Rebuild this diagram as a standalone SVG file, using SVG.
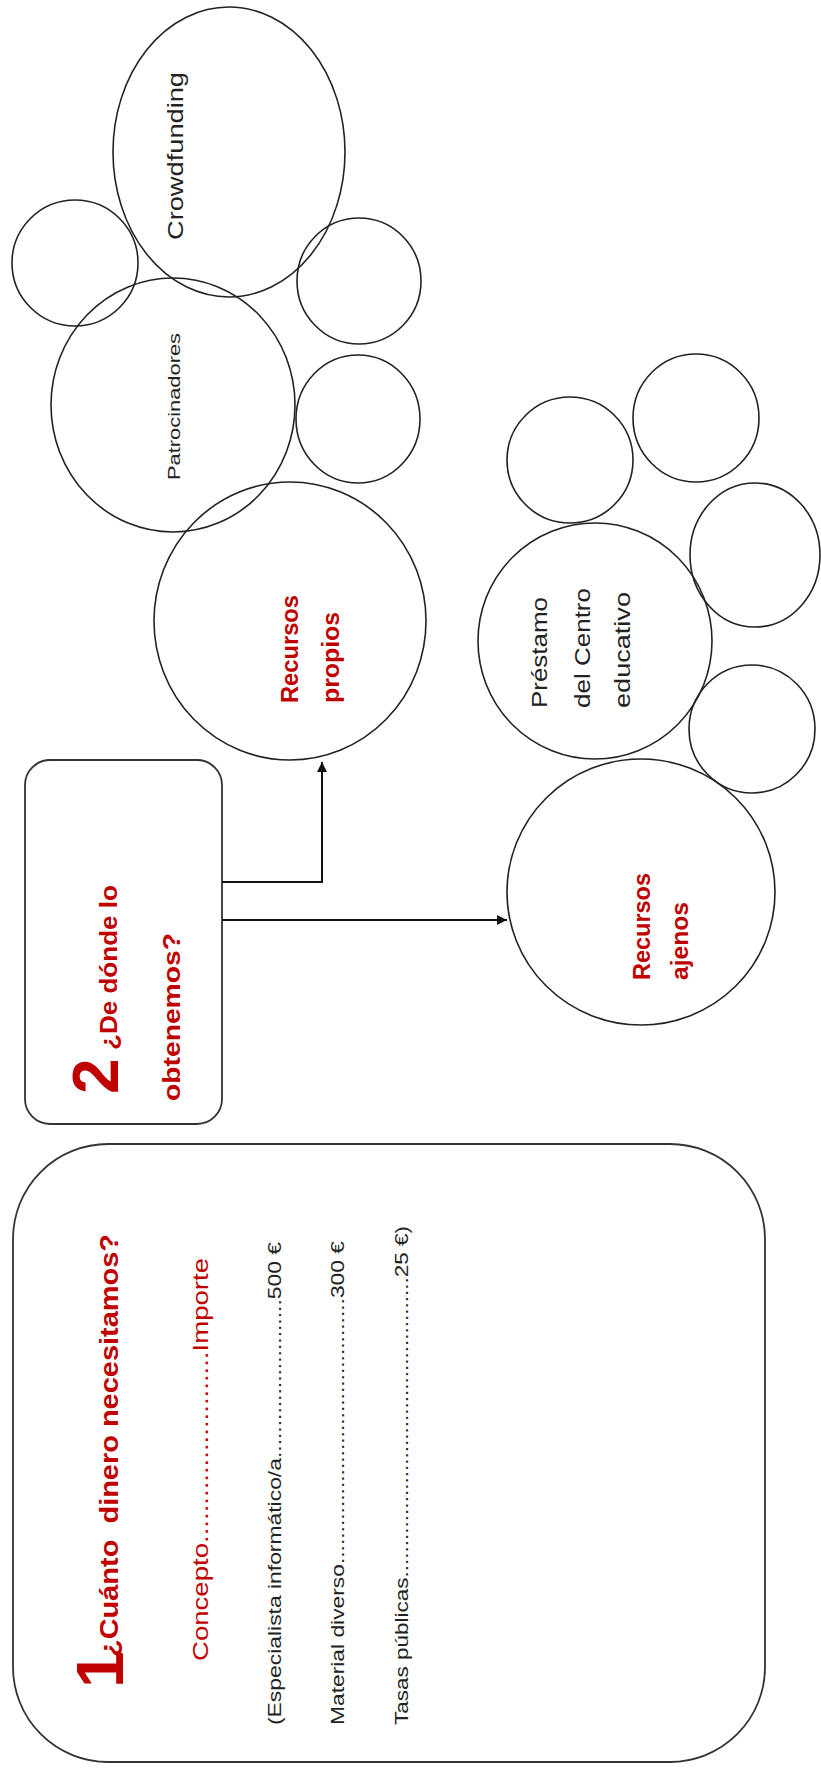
<svg xmlns="http://www.w3.org/2000/svg" width="821" height="1771" viewBox="0 0 821 1771">
<style>
.shape{fill:none;stroke:#222;stroke-width:1.6}
.box{fill:#fff;stroke:#333;stroke-width:1.8}
.red{fill:#C00000;font-family:"Liberation Sans",Arial,sans-serif}
.blk{fill:#222;font-family:"Liberation Sans",Arial,sans-serif}
.b{font-weight:bold}
.conn{fill:none;stroke:#111;stroke-width:2}
</style>
<defs>
<marker id="arr" viewBox="0 0 10 10" refX="10" refY="5" markerWidth="5" markerHeight="5" orient="auto" markerUnits="strokeWidth">
<path d="M0,0 L10,5 L0,10 z" fill="#111"/>
</marker>
</defs>
<rect width="821" height="1771" fill="#fff"/>

<g id="box1">
<rect class="box" x="13" y="1144" width="752" height="618" rx="95" ry="95"/>
<text class="red b" font-size="66" transform="translate(123,1688) rotate(-90)">1</text>
<text class="red b" font-size="25" xml:space="preserve" textLength="423" lengthAdjust="spacingAndGlyphs" transform="translate(118,1657) rotate(-90)">¿Cuánto  dinero necesitamos?</text>
<text class="red" font-size="22" textLength="403" lengthAdjust="spacingAndGlyphs" transform="translate(208,1661) rotate(-90)">Concepto.........................Importe</text>
<text class="blk" font-size="18" textLength="483" lengthAdjust="spacingAndGlyphs" transform="translate(281,1725) rotate(-90)">(Especialista informático/a.........................500 €</text>
<text class="blk" font-size="18" textLength="484" lengthAdjust="spacingAndGlyphs" transform="translate(344,1725) rotate(-90)">Material diverso..........................................300 €</text>
<text class="blk" font-size="18" textLength="499" lengthAdjust="spacingAndGlyphs" transform="translate(408,1725) rotate(-90)">Tasas públicas................................................25 €)</text>
</g>

<g id="box2">
<rect class="box" x="25" y="760" width="197" height="364" rx="25" ry="25"/>
<text class="red b" font-size="64" transform="translate(118,1094) rotate(-90)">2</text>
<text class="red b" font-size="24" textLength="165" lengthAdjust="spacingAndGlyphs" transform="translate(117,1050) rotate(-90)">¿De dónde lo</text>
<text class="red b" font-size="24" textLength="168" lengthAdjust="spacingAndGlyphs" transform="translate(180,1101) rotate(-90)">obtenemos?</text>
</g>

<g id="connectors">
<polyline class="conn" points="222,882 322,882 322,762" marker-end="url(#arr)"/>
<line class="conn" x1="222" y1="920" x2="507" y2="920" marker-end="url(#arr)"/>
</g>

<g id="crowdfunding">
<ellipse class="shape" cx="229" cy="152" rx="116" ry="145"/>
<text class="blk" font-size="22" textLength="168" lengthAdjust="spacingAndGlyphs" transform="translate(183,240) rotate(-90)">Crowdfunding</text>
</g>
<g id="small-topleft"><ellipse class="shape" cx="75" cy="263" rx="63" ry="63"/></g>
<g id="small-right1"><ellipse class="shape" cx="359" cy="281" rx="62" ry="63"/></g>
<g id="patrocinadores">
<ellipse class="shape" cx="173" cy="405" rx="122" ry="127"/>
<text class="blk" font-size="17" textLength="147" lengthAdjust="spacingAndGlyphs" transform="translate(180,480) rotate(-90)">Patrocinadores</text>
</g>
<g id="small-right2"><ellipse class="shape" cx="358" cy="419" rx="62" ry="64"/></g>
<g id="recursos-propios">
<ellipse class="shape" cx="290" cy="621" rx="136" ry="139"/>
<text class="red b" font-size="24" textLength="108" lengthAdjust="spacingAndGlyphs" transform="translate(298,703) rotate(-90)">Recursos</text>
<text class="red b" font-size="24" textLength="91" lengthAdjust="spacingAndGlyphs" transform="translate(339,703) rotate(-90)">propios</text>
</g>

<g id="small-a"><ellipse class="shape" cx="570" cy="460" rx="63" ry="63"/></g>
<g id="small-b"><ellipse class="shape" cx="696" cy="418" rx="63" ry="64"/></g>
<g id="small-c"><ellipse class="shape" cx="755" cy="555" rx="65" ry="72"/></g>
<g id="prestamo">
<ellipse class="shape" cx="595" cy="641" rx="117" ry="118"/>
<text class="blk" font-size="22" textLength="111" lengthAdjust="spacingAndGlyphs" transform="translate(547,708) rotate(-90)">Préstamo</text>
<text class="blk" font-size="22" textLength="120" lengthAdjust="spacingAndGlyphs" transform="translate(590,708) rotate(-90)">del Centro</text>
<text class="blk" font-size="22" textLength="116" lengthAdjust="spacingAndGlyphs" transform="translate(630,708) rotate(-90)">educativo</text>
</g>
<g id="small-d"><ellipse class="shape" cx="752" cy="729" rx="63" ry="64"/></g>
<g id="recursos-ajenos">
<ellipse class="shape" cx="641" cy="892" rx="134" ry="133"/>
<text class="red b" font-size="24" textLength="107" lengthAdjust="spacingAndGlyphs" transform="translate(650,980) rotate(-90)">Recursos</text>
<text class="red b" font-size="24" textLength="78" lengthAdjust="spacingAndGlyphs" transform="translate(688,980) rotate(-90)">ajenos</text>
</g>
</svg>
